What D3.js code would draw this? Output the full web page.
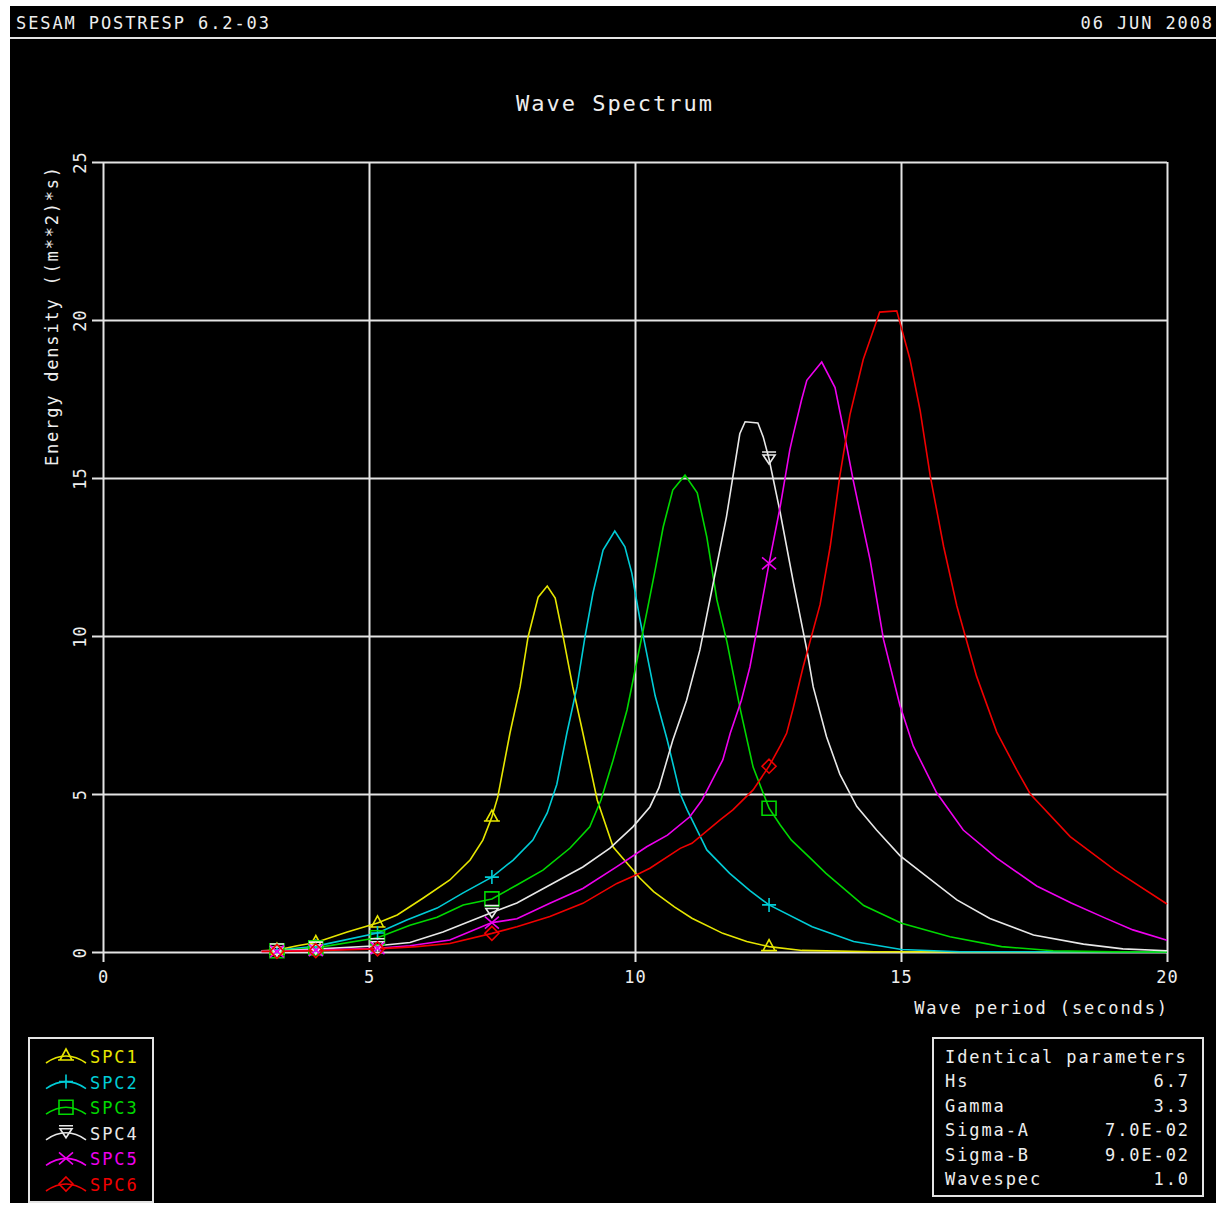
<!DOCTYPE html>
<html>
<head>
<meta charset="utf-8">
<script src="https://cdn.jsdelivr.net/npm/d3@7"></script>
<style>
  html, body { margin: 0; padding: 0; background: #fff; }
  svg text { font-family: "DejaVu Sans Mono", monospace; fill: #eee; }
</style>
</head>
<body>
<div id="chart"></div>
<script>
const WIDTH = 1216;
const HEIGHT = 1207;

// wave period (s) where the plot puts a symbol on every curve
const MARKER_T = [3.27, 4.0, 5.16, 7.31, 12.52];

// [period (s), energy density]
const spc1 = [[2.98,0.04],[3.27,0.06],[3.65,0.2],[4.0,0.3],[4.59,0.63],[5.16,0.92],[5.53,1.17],[6.02,1.71],
  [6.52,2.28],[6.9,2.91],[7.14,3.54],[7.31,4.27],[7.42,4.9],[7.65,6.93],[7.84,8.39],[7.99,9.97],[8.18,11.23],
  [8.35,11.58],[8.5,11.2],[8.65,9.97],[8.83,8.39],[9.02,6.93],[9.29,4.81],[9.59,3.32],[10.09,2.34],[10.35,1.91],
  [10.74,1.43],[11.07,1.07],[11.65,0.59],[12.1,0.33],[12.52,0.17],[13.14,0.05],[14.5,0.01],[20,0]];
const spc2 = [[2.98,0.03],[3.27,0.05],[4.0,0.18],[4.27,0.28],[5.16,0.6],[5.71,1.01],[6.28,1.39],[6.77,1.87],
  [7.31,2.37],[7.71,2.91],[8.08,3.54],[8.35,4.4],[8.53,5.3],[8.72,6.93],[8.91,8.39],[9.06,9.97],[9.21,11.36],
  [9.4,12.72],[9.62,13.32],[9.81,12.82],[9.94,11.99],[10.09,10.55],[10.38,8.1],[10.6,6.75],[10.85,5.0],
  [10.98,4.5],[11.26,3.54],[11.35,3.23],[11.78,2.49],[12.16,1.94],[12.52,1.49],[13.33,0.8],[14.11,0.33],
  [15.01,0.08],[16.1,0.01],[20,0]];
const spc3 = [[2.98,0.03],[3.27,0.04],[4.0,0.13],[5.16,0.45],[5.77,0.85],[6.28,1.1],[6.77,1.49],[7.31,1.68],
  [7.78,2.12],[8.27,2.59],[8.78,3.29],[9.15,3.96],[9.36,4.81],[9.59,6.08],[9.85,7.66],[10.04,9.24],[10.23,10.82],
  [10.38,12.1],[10.53,13.45],[10.71,14.62],[10.94,15.09],[11.17,14.53],[11.35,13.13],[11.54,11.14],[11.73,9.8],
  [11.97,7.75],[12.22,5.85],[12.52,4.55],[12.73,4.02],[12.94,3.54],[13.29,2.98],[13.59,2.49],[14.3,1.47],
  [15.01,0.91],[15.92,0.48],[16.89,0.17],[17.86,0.04],[19,0.01],[20,0]];
const spc4 = [[2.98,0.02],[3.27,0.03],[4.0,0.09],[5.16,0.2],[5.77,0.3],[6.39,0.63],[7.31,1.25],[7.78,1.55],
  [8.4,2.12],[9.02,2.69],[9.53,3.29],[9.96,3.96],[10.28,4.59],[10.45,5.2],[10.71,6.7],[10.97,7.97],[11.22,9.56],
  [11.47,11.67],[11.72,13.78],[11.97,16.4],[12.07,16.78],[12.31,16.74],[12.41,16.3],[12.52,15.6],[12.73,13.9],
  [12.98,11.67],[13.23,9.56],[13.35,8.39],[13.6,6.81],[13.85,5.63],[14.17,4.6],[14.54,3.86],[14.98,3.05],
  [15.48,2.39],[16.05,1.65],[16.67,1.06],[17.49,0.54],[18.43,0.25],[19.17,0.1],[20,0.04]];
const spc5 = [[2.98,0.02],[3.27,0.02],[4.0,0.06],[5.16,0.12],[5.77,0.2],[6.52,0.38],[7.31,0.93],[7.78,1.05],
  [8.4,1.54],[9.02,2.01],[9.66,2.7],[10.22,3.33],[10.61,3.7],[11.03,4.28],[11.26,4.81],[11.65,6.08],[11.79,6.92],
  [12.0,7.97],[12.16,9.02],[12.29,10.19],[12.52,12.3],[12.73,14.1],[12.91,15.89],[12.98,16.41],[13.13,17.47],
  [13.23,18.09],[13.51,18.67],[13.76,17.86],[13.92,16.53],[14.1,14.94],[14.42,12.4],[14.67,9.9],[14.98,7.8],
  [15.23,6.52],[15.36,6.08],[15.67,5.04],[16.17,3.86],[16.8,2.97],[17.55,2.09],[18.2,1.55],[18.83,1.08],
  [19.36,0.7],[20,0.37]];
const spc6 = [[2.98,0.02],[3.27,0.02],[4.0,0.04],[5.16,0.1],[5.9,0.17],[6.52,0.27],[7.31,0.59],[7.78,0.8],
  [8.4,1.12],[9.02,1.54],[9.66,2.17],[10.09,2.49],[10.28,2.65],[10.85,3.28],[11.07,3.44],[11.6,4.18],[11.84,4.5],
  [12.22,5.13],[12.52,5.88],[12.73,6.52],[12.85,6.92],[12.97,7.69],[13.16,9.02],[13.48,11.0],[13.67,12.84],
  [13.85,15.06],[14.04,17.0],[14.29,18.75],[14.6,20.25],[14.92,20.29],[15.17,18.75],[15.36,17.13],[15.55,15.06],
  [15.8,12.84],[16.05,10.95],[16.42,8.73],[16.8,6.96],[17.17,5.78],[17.43,5.0],[18.18,3.65],[19.02,2.59],
  [20,1.52]];

const SERIES_NAMES = ["SPC1", "SPC2", "SPC3", "SPC4", "SPC5", "SPC6"];
const SERIES_DATA = [spc1, spc2, spc3, spc4, spc5, spc6];
const SERIES_COLORS = ["#e6e600", "#00ccd6", "#00d800", "#e8e8e8", "#ee00ee", "#f00000"];
const SERIES_MARKERS = ["triangle", "plus", "square", "nabla", "cross", "diamond"];

const X_TICKS = [0, 5, 10, 15, 20];
const Y_TICKS = [0, 5, 10, 15, 20, 25];

const PARAM_NAMES = ["Hs", "Gamma", "Sigma-A", "Sigma-B", "Wavespec"];
const PARAM_VALUES = ["6.7", "3.3", "7.0E-02", "9.0E-02", "1.0"];

const LEFT = 103, RIGHT = 1167, TOP = 162, BOTTOM = 952;
const GRID_COLOR = "#e4e4e4";
const FS = "17px", LS = "1.9px";

var svg = d3.select("#chart")
    .append("svg")
    .attr("width", WIDTH)
    .attr("height", HEIGHT);

svg.append("rect")
    .attr("x", 10).attr("y", 6)
    .attr("width", WIDTH - 10).attr("height", 1197)
    .attr("fill", "#000");

// header
svg.append("text").attr("x", 16).attr("y", 29)
    .style("font-size", FS).style("letter-spacing", LS)
    .text("SESAM POSTRESP 6.2-03");
svg.append("text").attr("x", 1214).attr("y", 29)
    .attr("text-anchor", "end")
    .style("font-size", FS).style("letter-spacing", LS)
    .text("06 JUN 2008");
svg.append("line")
    .attr("x1", 10).attr("x2", WIDTH).attr("y1", 38).attr("y2", 38)
    .attr("stroke", GRID_COLOR).attr("stroke-width", 2);

svg.append("text").attr("x", 615).attr("y", 111)
    .attr("text-anchor", "middle")
    .style("font-size", "22px").style("letter-spacing", "2px")
    .text("Wave Spectrum");

var x = d3.scaleLinear().domain([0, 20]).range([LEFT, RIGHT]);
var y = d3.scaleLinear().domain([0, 25]).range([BOTTOM, TOP]);

// grid + ticks done with the axes themselves
var xAxis = svg.append("g")
    .attr("transform", "translate(0," + TOP + ")")
    .call(d3.axisBottom(x).tickValues(X_TICKS).tickSize(BOTTOM - TOP + 10).tickPadding(9));
xAxis.select(".domain").remove();
xAxis.selectAll("line").attr("stroke", GRID_COLOR).attr("stroke-width", 2);
xAxis.selectAll("text")
    .attr("fill", "#eee").attr("font-family", null)
    .style("font-size", FS).style("letter-spacing", "1px");

var yAxis = svg.append("g")
    .attr("transform", "translate(" + RIGHT + ",0)")
    .call(d3.axisLeft(y).tickValues(Y_TICKS).tickSize(RIGHT - LEFT + 11));
yAxis.select(".domain").remove();
yAxis.selectAll("line").attr("stroke", GRID_COLOR).attr("stroke-width", 2);
yAxis.selectAll("text")
    .attr("fill", "#eee").attr("font-family", null)
    .attr("x", null).attr("dy", null)
    .attr("text-anchor", "middle")
    .attr("transform", "translate(" + (86 - RIGHT) + ",0) rotate(-90)")
    .style("font-size", FS).style("letter-spacing", "1px");

svg.append("text")
    .attr("transform", "translate(58,466) rotate(-90)")
    .style("font-size", FS).style("letter-spacing", "1.8px")
    .text("Energy density ((m**2)*s)");

svg.append("text").attr("x", 1169).attr("y", 1014)
    .attr("text-anchor", "end")
    .style("font-size", FS).style("letter-spacing", LS)
    .text("Wave period (seconds)");

// curves
var line = d3.line()
    .x(d => x(d[0]))
    .y(d => y(d[1]));

function markerPath(kind) {
    switch (kind) {
        case "triangle": return "M0,-7L-6,4L6,4Z M-8,4L8,4";
        case "plus": return "M-7,0L7,0M0,-7L0,7";
        case "square": return "M-7,-7L7,-7L7,7L-7,7Z";
        case "nabla": return "M-7,-7L7,-7M-6,-4L6,-4L0,5Z";
        case "cross": return "M-7,-6L7,6M-7,6L7,-6";
        case "diamond": return "M0,-7L7,0L0,7L-7,0Z";
    }
}

SERIES_DATA.forEach((data, i) => {
    svg.append("path")
        .datum(data)
        .attr("d", line)
        .attr("fill", "none")
        .attr("stroke", SERIES_COLORS[i])
        .attr("stroke-width", 1.6);
});

SERIES_DATA.forEach((data, i) => {
    svg.append("g").selectAll("path")
        .data(data.filter(d => MARKER_T.includes(d[0])))
        .enter().append("path")
        .attr("transform", d => "translate(" + x(d[0]) + "," + y(d[1]) + ")")
        .attr("d", markerPath(SERIES_MARKERS[i]))
        .attr("fill", "none")
        .attr("stroke", SERIES_COLORS[i])
        .attr("stroke-width", 1.6);
});

// legend
var legend = svg.append("g");
legend.append("rect")
    .attr("x", 29).attr("y", 1038).attr("width", 124).attr("height", 164)
    .attr("fill", "none").attr("stroke", GRID_COLOR).attr("stroke-width", 2);

SERIES_NAMES.forEach((name, i) => {
    var cy = 1055 + i * 25.6;
    legend.append("path")
        .attr("d", "M46," + (cy + 8) + "Q66," + (cy - 6) + " 86," + (cy + 8))
        .attr("fill", "none").attr("stroke", SERIES_COLORS[i]).attr("stroke-width", 1.6);
    legend.append("path")
        .attr("transform", "translate(66," + (cy + 1) + ")")
        .attr("d", markerPath(SERIES_MARKERS[i]))
        .attr("fill", "none").attr("stroke", SERIES_COLORS[i]).attr("stroke-width", 1.6);
    legend.append("text")
        .attr("x", 90).attr("y", cy + 8)
        .style("fill", SERIES_COLORS[i])
        .style("font-size", FS).style("letter-spacing", LS)
        .text(name);
});

// parameter box
var params = svg.append("g");
params.append("rect")
    .attr("x", 933).attr("y", 1038).attr("width", 270).attr("height", 158)
    .attr("fill", "none").attr("stroke", GRID_COLOR).attr("stroke-width", 2);
params.append("text")
    .attr("x", 945).attr("y", 1063)
    .style("font-size", FS).style("letter-spacing", LS)
    .text("Identical parameters");
PARAM_NAMES.forEach((name, i) => {
    var ty = 1087 + i * 24.5;
    params.append("text").attr("x", 945).attr("y", ty)
        .style("font-size", FS).style("letter-spacing", LS)
        .text(name);
    params.append("text").attr("x", 1190).attr("y", ty)
        .attr("text-anchor", "end")
        .style("font-size", FS).style("letter-spacing", LS)
        .text(PARAM_VALUES[i]);
});
</script>
</body>
</html>
